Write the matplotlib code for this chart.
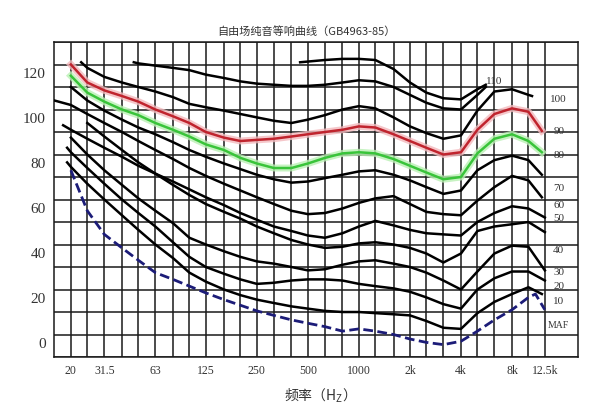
import matplotlib
matplotlib.use("Agg")
import matplotlib.pyplot as plt
from matplotlib import transforms
from matplotlib.ticker import NullFormatter

plt.rcParams['font.family'] = ['Liberation Serif', 'Noto Sans CJK SC', 'DejaVu Sans']

# third-octave band centres (grid lines)
bands = [20, 25, 31.5, 40, 50, 63, 80, 100, 125, 160, 200, 250, 315, 400, 500,
         630, 800, 1000, 1250, 1600, 2000, 2500, 3150, 4000, 5000, 6300, 8000,
         10000, 12500]
tick_freqs = [20, 31.5, 63, 125, 250, 500, 1000, 2000, 4000, 8000, 12500]
tick_names = ["20", "31.5", "63", "125", "250", "500", "1000", "2k", "4k", "8k", "12.5k"]
y_ticks = [0, 20, 40, 60, 80, 100, 120]

# equal loudness curves (Hz, dB)
f_120 = [450, 630, 800, 1000, 1250, 1600, 2000, 2500, 3150, 4000, 5000, 5600]
db_120 = [121, 122, 122.5, 122.5, 122, 118, 112, 107.5, 105, 104.5, 109, 111]

f_110 = [47, 50, 63, 80, 100, 125, 160, 200, 250, 315, 400, 500, 630, 800, 1000,
         1250, 1600, 2000, 2500, 3150, 4000, 5000, 5600]
db_110 = [121, 120.5, 119.5, 118.5, 117.5, 115.5, 114, 112.5, 111.5, 111, 110.5,
          110.5, 111, 112, 113, 112.5, 110, 106.5, 103, 100.5, 100, 106.5, 110]

f_100 = [23, 25, 31.5, 40, 50, 63, 80, 100, 125, 160, 200, 250, 315, 400, 500, 630,
         800, 1000, 1250, 1600, 2000, 2500, 3150, 4000, 5000, 6300, 8000, 10000, 10500]
db_100 = [121, 118.5, 114.5, 112, 110, 108, 105.5, 102.5, 101, 99.5, 98, 96.5, 95,
          94, 95.5, 97.5, 100, 101.5, 100.5, 96.5, 92.5, 89.5, 87, 88.5, 99.5, 108,
          109, 106.5, 106]

f_90 = bands[:-1] + [12000]
db_90 = [120, 112, 108.5, 106, 103.5, 100, 97, 94, 90, 87.5, 86, 86.5, 87, 88, 89,
         90, 91, 92.5, 92, 89, 86, 83, 80, 81, 91, 98, 100.5, 99, 90.5]

f_80 = bands[:-1] + [12000]
db_80 = [115, 107.5, 103.5, 100, 97.5, 94, 91, 88, 84.5, 82, 78.5, 76, 74, 74, 76,
         78.5, 80.5, 81, 80.5, 78, 75, 72, 69, 70, 80.5, 87, 89, 86, 81]

f_70 = bands[:-1] + [12000]
db_70 = [110, 104, 99.5, 95.5, 92, 89, 85.5, 82, 79, 76, 73.5, 71, 69, 67.5, 68,
         69.5, 71, 72.5, 73, 71, 68.5, 65.5, 62.5, 64, 73, 77.5, 79.5, 77.5, 71]

f_60 = [16] + bands[:-1] + [12000]
db_60 = [104, 102, 98, 94, 90, 86, 82, 78, 74, 70.5, 67, 64, 61, 58, 55, 53.5, 54,
         56, 58.5, 60.5, 61.5, 58, 54.5, 53.5, 53, 59.5, 65.5, 70.5, 68.5, 61]

f_50 = [18] + bands
db_50 = [93, 91, 87, 83, 79, 75, 71.5, 68, 64.5, 61, 57.5, 54, 51, 48, 46, 44, 43,
         45, 48, 50.5, 48.5, 46.5, 45, 44.5, 44, 50, 54, 57, 56, 52]

f_40 = bands[1:]
db_40 = [94, 88, 82, 76.5, 71.5, 66.5, 62, 58, 54.5, 51.5, 48, 45, 42, 40, 38.5,
         39, 40.5, 41, 40, 38.5, 36, 32, 36, 46, 48, 49, 50, 45.5]

f_30 = bands
db_30 = [87.5, 80, 73, 66.5, 60.5, 55, 49.5, 43, 40, 37, 34.5, 32.5, 31.5, 30, 28.5,
         29, 31, 32.5, 33, 31.5, 30, 27.5, 24, 20, 28, 36, 39.5, 39, 28.5]

f_20 = [19] + bands
db_20 = [83, 81, 74, 67, 60, 54, 48, 41, 34.5, 30, 27, 24.5, 22.5, 23, 24, 24.5,
         24.5, 24, 22.5, 21.5, 20.5, 19, 16.5, 13.5, 11.5, 20, 25, 28, 28, 24]

f_10 = [19] + bands[:-1] + [12000]
db_10 = [76.5, 74.5, 67, 60, 53, 46.5, 40, 34, 27.5, 23.5, 20, 17.5, 15.5, 14, 12.5,
         11.5, 10.5, 10, 10, 9.5, 9, 8.5, 6, 3, 2.5, 9.5, 14.5, 18, 21, 18]

f_maf = bands[:-1] + [11000, 12500]
db_maf = [73, 55, 44.5, 38.5, 33, 27.5, 24.5, 21.5, 18.5, 15.5, 13, 10.5, 8.5, 6.5,
          5, 3.5, 1.5, 2.5, 1.5, 0, -2, -3.5, -4.5, -3, 1.5, 6.5, 11, 16.5, 18, 11]

# labels at the right hand side
lab_text = ["110", "100", "90", "80", "70", "60", "50", "40", "30", "20", "10", "MAF"]
lab_freq = [6300, 15100, 15100, 15100, 15100, 15100, 15100, 15100, 15100, 15100, 15100, 15100]
lab_db = [113, 105, 90.5, 80, 65.5, 58, 52, 38, 28, 22, 15, 4.5]

fig = plt.figure(figsize=(6, 4.1), dpi=100)
ax = fig.add_axes([0.09, 0.1268, 0.8733, 0.7683])

ax.set_xscale('log')
ax.set_xlim(15.9, 19600)
ax.set_ylim(-10, 130)

ax.set_xticks(tick_freqs)
ax.set_xticklabels(tick_names)
ax.set_xticks(bands, minor=True)
ax.xaxis.set_minor_formatter(NullFormatter())
ax.set_yticks(y_ticks)
ax.set_yticks(range(-10, 131, 10), minor=True)
ax.grid(True, which='both', color='#1a1a1a', lw=1.1)
ax.set_axisbelow(True)
ax.tick_params(which='both', length=0)
ax.tick_params(axis='x', labelsize=8.5, pad=5, colors='#333333')
ax.tick_params(axis='y', labelsize=11, pad=6, colors='#333333')
for s in ax.spines.values():
    s.set_color('#1a1a1a')
    s.set_linewidth(1.1)

shift = transforms.ScaledTranslation(0, -0.07, fig.dpi_scale_trans)
for t in ax.get_yticklabels():
    t.set_transform(t.get_transform() + shift)

black = [(f_120, db_120), (f_110, db_110), (f_100, db_100), (f_70, db_70),
         (f_60, db_60), (f_50, db_50), (f_40, db_40), (f_30, db_30),
         (f_20, db_20), (f_10, db_10)]
for f, db in black:
    ax.plot(f, db, color='black', lw=1.8, zorder=4, solid_joinstyle='round')

ax.plot(f_90, db_90, color='#f3b9bd', lw=5, zorder=3, alpha=0.8)
ax.plot(f_90, db_90, color='#c0242e', lw=1.8, zorder=4)
ax.plot(f_80, db_80, color='#b9f0b3', lw=5, zorder=3, alpha=0.8)
ax.plot(f_80, db_80, color='#39c43a', lw=1.8, zorder=4)
ax.plot(f_maf, db_maf, color='#1c1c78', lw=2, ls=(0, (3.5, 1.6)), zorder=4)

for t, f, db in zip(lab_text, lab_freq, lab_db):
    ax.text(f, db, t, fontsize=7 if t == "MAF" else 8, ha='center', va='center',
            color='#333333', zorder=5)

fig.text(0.51, 1 - 32 / 410, "自由场纯音等响曲线（GB4963-85）", ha='center',
         va='center', fontsize=8, color='#333333',
         family=['Noto Sans CJK SC', 'DejaVu Sans'])
fig.text(0.527, 1 - 396 / 410, "频率（H$_\\mathregular{Z}$）", ha='center', va='center',
         fontsize=10, color='#333333', family=['Noto Sans CJK SC', 'DejaVu Sans'])

fig.savefig('out.png', dpi=100)
